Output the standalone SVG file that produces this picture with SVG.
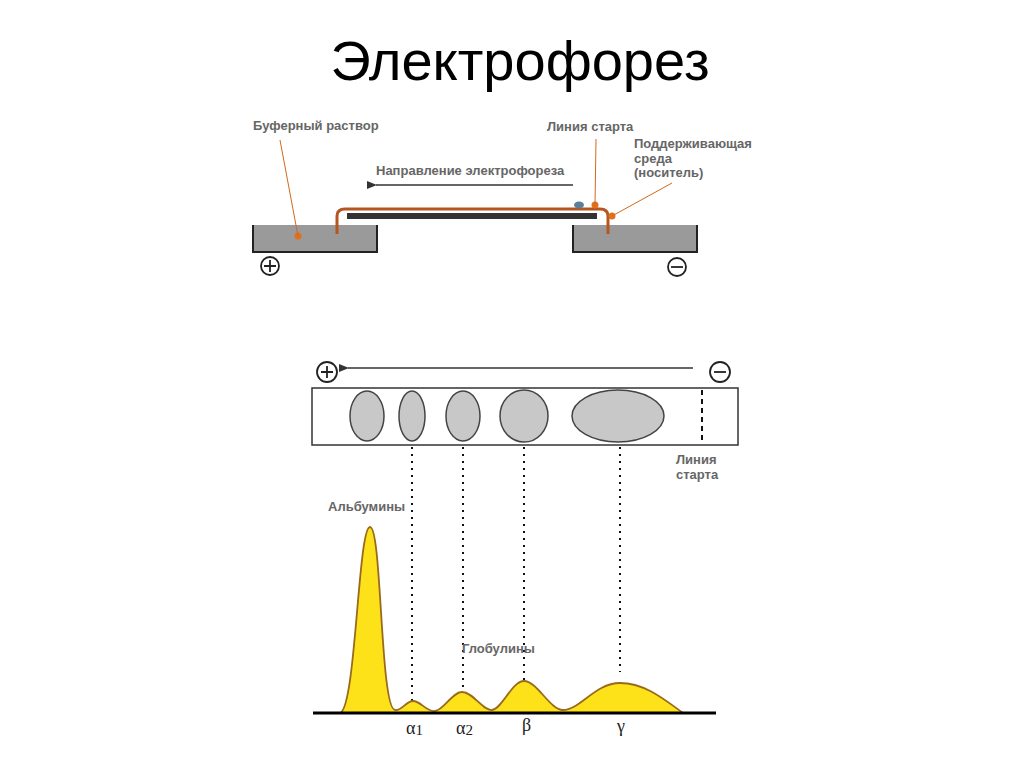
<svg xmlns="http://www.w3.org/2000/svg" width="1024" height="768" viewBox="0 0 1024 768">
<style>
.lbl{font-family:"Liberation Sans",Arial,sans-serif;font-size:13px;font-weight:bold;fill:#666}
.gr{font-family:"Liberation Serif",serif;font-size:18px;fill:#222}
.tank{fill:#999;stroke:#222;stroke-width:2}
.ell{fill:#c8c8c8;stroke:#444;stroke-width:1.5}
.dot{stroke:#111;stroke-width:2;stroke-dasharray:2 5;fill:none}
.lead{stroke:#d2691e;stroke-width:1;fill:none}
.od{fill:#e0701c}
.sign{fill:none;stroke:#222;stroke-width:1.8}
</style>
<defs><marker id="ah" markerWidth="10" markerHeight="8" refX="1" refY="4" orient="auto" markerUnits="userSpaceOnUse"><path d="M10,0 L0,4 L10,8 Z" fill="#333"/></marker></defs>
<rect width="1024" height="768" fill="#fff"/>
<text x="520" y="80" text-anchor="middle" font-family="Liberation Sans,Arial,sans-serif" font-size="56" fill="#000">Электрофорез</text>
<g id="apparatus">
<path class="tank" d="M253,225 V252 H377 V225" />
<rect x="254" y="226" width="122" height="25" fill="#9a9a9a"/>
<path class="tank" d="M573,225 V252 H697 V225"/>
<rect x="574" y="226" width="122" height="25" fill="#9a9a9a"/>
<rect x="347" y="213" width="250" height="6" fill="#333"/>
<path d="M337,234 V216 Q337,209 345,209 H600 Q608,209 608,216 V234" fill="none" stroke="#b5561f" stroke-width="3"/>
<ellipse cx="579" cy="205" rx="5" ry="3.5" fill="#5a7f9a"/>
<circle cx="595" cy="205" r="3.5" class="od"/>
<circle cx="298" cy="236" r="3.5" class="od"/>
<circle cx="612" cy="216" r="3.5" class="od"/>
<line class="lead" x1="280" y1="140" x2="298" y2="236"/>
<line class="lead" x1="596" y1="139" x2="595" y2="205"/>
<line class="lead" x1="672" y1="183" x2="612" y2="216"/>
<text class="lbl" x="253" y="130">Буферный раствор</text>
<text class="lbl" x="547" y="131">Линия старта</text>
<text class="lbl" x="634" y="148">Поддерживающая</text>
<text class="lbl" x="634" y="163">среда</text>
<text class="lbl" x="634" y="177">(носитель)</text>
<text class="lbl" x="376" y="175">Направление электрофореза</text>
<line x1="573" y1="185" x2="376" y2="185" stroke="#333" stroke-width="1.5" marker-end="url(#ah)"/>
<circle cx="270" cy="266" r="9" class="sign"/><path class="sign" d="M264,266 H276 M270,260 V272"/>
<circle cx="677" cy="267" r="9" class="sign"/><path class="sign" d="M671,267 H683"/>
</g>
<g id="strip">
<circle cx="327" cy="372" r="10" class="sign"/><path class="sign" d="M321,372 H333 M327,366 V378"/>
<circle cx="720" cy="372" r="10" class="sign"/><path class="sign" d="M714,372 H726"/>
<line x1="693" y1="368" x2="348" y2="368" stroke="#333" stroke-width="1.5" marker-end="url(#ah)"/>
<rect x="312" y="388" width="426" height="57" fill="#fff" stroke="#333" stroke-width="1.5"/>
<ellipse class="ell" cx="367" cy="416" rx="17" ry="25"/>
<ellipse class="ell" cx="412" cy="416" rx="13" ry="25"/>
<ellipse class="ell" cx="463" cy="416" rx="17" ry="25"/>
<ellipse class="ell" cx="524" cy="416" rx="24" ry="26"/>
<ellipse class="ell" cx="618" cy="416" rx="46" ry="26"/>
<line x1="702" y1="390" x2="702" y2="443" stroke="#111" stroke-width="2" stroke-dasharray="5 4"/>
<text class="lbl" x="676" y="464">Линия</text>
<text class="lbl" x="676" y="479">старта</text>
</g>
<g id="connectors">
<line class="dot" x1="412" y1="447" x2="412" y2="705"/>
<line class="dot" x1="463" y1="447" x2="463" y2="692"/>
<line class="dot" x1="524" y1="447" x2="524" y2="681"/>
<line class="dot" x1="620" y1="447" x2="620" y2="672"/>
</g>
<g id="graph">
<path d="M340,713 C356,708 358,527 370,527 C382,527 380,708 395,710 C402,711 406,701 413,701 C421,701 426,712 435,711 C444,710 452,692 462,692 C473,692 483,711 492,710 C502,709 512,681 524,681 C537,681 550,710 563,710 C580,710 595,683 620,683 C645,683 665,700 683,713 Z" fill="#fde21a" stroke="#9a6a1c" stroke-width="1.8"/>
<line x1="313" y1="713" x2="716" y2="713" stroke="#000" stroke-width="3"/>
<text class="lbl" x="328" y="511">Альбумины</text>
<text class="lbl" x="462" y="653">Глобулины</text>
<text class="gr" x="406" y="734">α<tspan font-size="15" dy="1">1</tspan></text>
<text class="gr" x="456" y="734">α<tspan font-size="15" dy="1">2</tspan></text>
<text class="gr" x="522" y="731">β</text>
<text class="gr" x="617" y="732">γ</text>
</g>
</svg>
